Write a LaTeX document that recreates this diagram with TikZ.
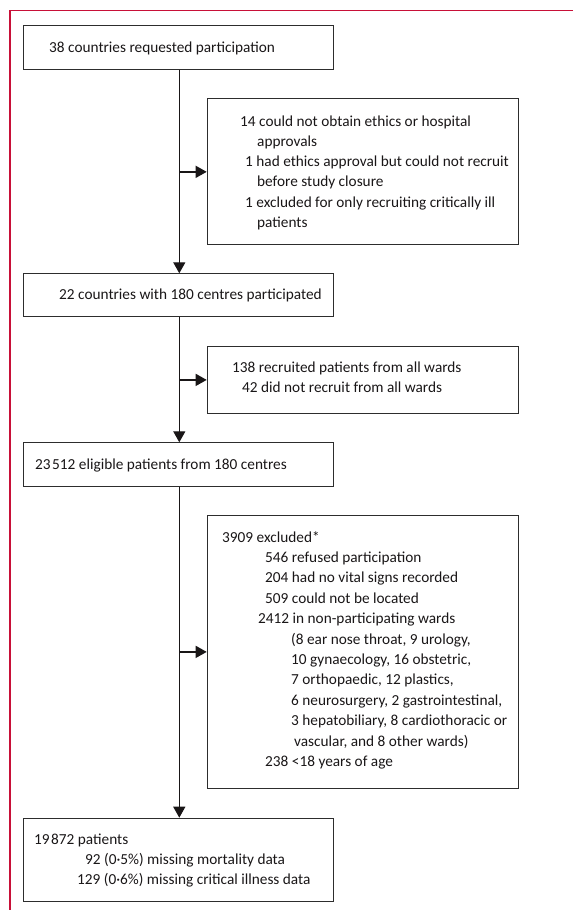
\documentclass[tikz,border=0pt]{standalone}
\usepackage{fontspec}
\setmainfont{Carlito}
\usetikzlibrary{arrows.meta}
\definecolor{frame}{RGB}{200,16,56}
\definecolor{ink}{RGB}{25,22,23}
\definecolor{boxline}{RGB}{45,45,45}
\tikzset{
  box/.style={draw=boxline, line width=1.1pt, anchor=north west, inner sep=0pt, rectangle},
  txt/.style={anchor=base west, inner sep=0pt, text=ink, font=\fontsize{15.3}{18}\selectfont},
  arr/.style={draw=ink, line width=1.3pt, -{Triangle[length=11pt,width=12pt]}},
}
\begin{document}
\begin{tikzpicture}[x=1pt,y=-1pt]
\useasboundingbox (0,0) rectangle (573,910);
% frame
\draw[frame, line width=1.4pt] (573,10.5) -- (10,10.5) -- (10,910);
% boxes
\node[box, minimum width=310.6pt, minimum height=43.7pt] (b1) at (22.7,25) {};
\node[box, minimum width=311pt, minimum height=146pt] (b2) at (206.7,98.3) {};
\node[box, minimum width=310.6pt, minimum height=42.4pt] (b3) at (22.7,273.3) {};
\node[box, minimum width=311pt, minimum height=66.7pt] (b4) at (206.7,346) {};
\node[box, minimum width=310.6pt, minimum height=43.4pt] (b5) at (22.7,442.3) {};
\node[box, minimum width=311pt, minimum height=272.7pt] (b6) at (206.7,515) {};
\node[box, minimum width=310.6pt, minimum height=83.6pt] (b7) at (22.7,817.7) {};
% texts box 1
\node[txt] (t1) at (49,52.3) {38 countries requested participation};
% box 2
\node[txt] (t2a) at (240,126) {14 could not obtain ethics or hospital};
\node[txt] (t2b) at (257,146.3) {approvals};
\node[txt] (t2c) at (245,166.6) {1 had ethics approval but could not recruit};
\node[txt] (t2d) at (257,186.9) {before study closure};
\node[txt] (t2e) at (245,207.2) {1 excluded for only recruiting critically ill};
\node[txt] (t2f) at (257,227.5) {patients};
% box 3
\node[txt] (t3) at (59,299.5) {22 countries with 180 centres participated};
% box 4
\node[txt] (t4a) at (232,372) {138 recruited patients from all wards};
\node[txt] (t4b) at (242,392.3) {42 did not recruit from all wards};
% box 5
\node[txt] (t5) at (35,469) {23\kern1.5pt 512 eligible patients from 180 centres};
% box 6
\node[txt] (t6a) at (222,542) {3909 excluded*};
\node[txt] (t6b) at (265,562.4) {546 refused participation};
\node[txt] (t6c) at (265,582.8) {204 had no vital signs recorded};
\node[txt] (t6d) at (265,603.2) {509 could not be located};
\node[txt] (t6e) at (258,623.6) {2412 in non-participating wards};
\node[txt] (t6f) at (291,644) {(8 ear nose throat, 9 urology,};
\node[txt] (t6g) at (291,664.4) {10 gynaecology, 16 obstetric,};
\node[txt] (t6h) at (291,684.8) {7 orthopaedic, 12 plastics,};
\node[txt] (t6i) at (291,705.2) {6 neurosurgery, 2 gastrointestinal,};
\node[txt] (t6j) at (291,725.6) {3 hepatobiliary, 8 cardiothoracic or};
\node[txt] (t6k) at (294,746) {vascular, and 8 other wards)};
\node[txt] (t6l) at (265,766.4) {238 <18 years of age};
% box 7
\node[txt] (t7a) at (34,844) {19\kern1.5pt 872 patients};
\node[txt] (t7b) at (85,864.4) {92 (0·5\%) missing mortality data};
\node[txt] (t7c) at (77,884.8) {129 (0·6\%) missing critical illness data};
% connectors
\coordinate (trunk) at (179.3,0);
\draw[arr] (trunk |- b1.south) -- (trunk |- b3.north);
\draw[arr] (trunk |- b2.west) -- (b2.west);
\draw[arr] (trunk |- b3.south) -- (trunk |- b5.north);
\draw[arr] (trunk |- b4.west) -- (b4.west);
\draw[arr] (trunk |- b5.south) -- (trunk |- b7.north);
\draw[arr] (trunk |- b6.west) -- (b6.west);
\end{tikzpicture}
\end{document}
